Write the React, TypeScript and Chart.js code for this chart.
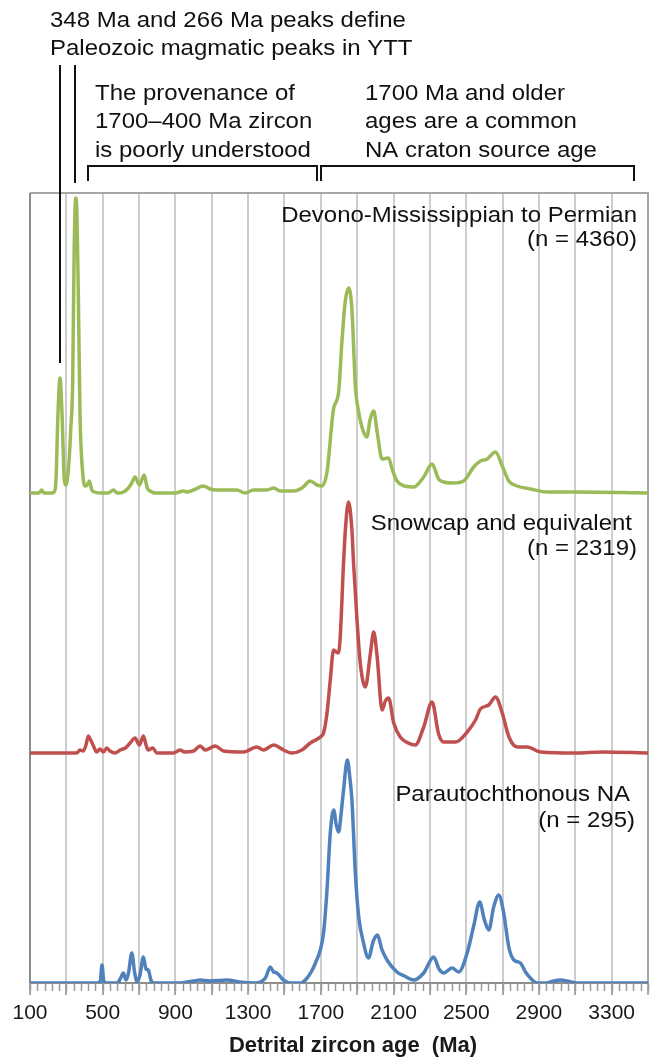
import React, { useEffect, useRef } from 'react';
import { Chart, registerables } from 'chart.js';

Chart.register(...registerables);

// ---------- axis definition ----------
const AGE_MIN = 100;
const AGE_MAX = 3500;
const GRID_TICKS = [100, 300, 500, 700, 900, 1100, 1300, 1500, 1700, 1900, 2100, 2300, 2500, 2700, 2900, 3100, 3300, 3500];
const LABELED_TICKS = [100, 500, 900, 1300, 1700, 2100, 2500, 2900, 3300];
const MINOR_STEP = 40;
const X_TITLE = 'Detrital zircon age  (Ma)';

// ---------- series: [age (Ma), relative probability] ----------
const GREEN_PROFILE = [
  [100, 0], [150, 0], [164, 3], [176, 0], [221, 0], [236, 2], [243, 13], [254, 80], [265, 115], [276, 80],
  [289, 13], [297, 8], [311, 23], [324, 63], [335, 113], [342, 230], [349, 290], [353, 295], [358, 280],
  [366, 197], [375, 80], [390, 20], [403, 7], [414, 8], [427, 12], [440, 3], [455, 1], [485, 0], [530, 0],
  [559, 3], [580, 0], [615, 1], [641, 5], [660, 10], [678, 16], [702, 8], [728, 18], [745, 5], [761, 2],
  [790, 0], [900, 0], [944, 2], [965, 1], [1000, 3], [1054, 7], [1090, 4], [1128, 3], [1238, 3], [1284, 0],
  [1330, 3], [1403, 3], [1440, 5], [1477, 2], [1550, 2], [1596, 5], [1642, 12], [1679, 8], [1706, 7],
  [1734, 21], [1770, 84], [1798, 101], [1816, 151], [1834, 191], [1853, 205], [1871, 184], [1890, 107],
  [1908, 81], [1935, 61], [1953, 56], [1972, 74], [1991, 82], [2010, 61], [2037, 34], [2073, 35],
  [2092, 24], [2119, 12], [2160, 7], [2211, 6], [2266, 16], [2312, 29], [2348, 14], [2376, 11], [2430, 10],
  [2486, 12], [2541, 26], [2578, 32], [2615, 34], [2661, 41], [2698, 27], [2734, 12], [2780, 7], [2854, 4],
  [2946, 1], [3100, 1], [3500, 0],
];

const RED_PROFILE = [
  [100, 0], [357, 0], [375, 3], [393, 2], [408, 8], [421, 17], [434, 13], [449, 7], [467, 1], [485, 4],
  [504, 1], [522, 5], [540, 2], [568, 0], [596, 3], [625, 5], [651, 10], [678, 15], [702, 8], [724, 17],
  [740, 7], [751, 3], [775, 5], [798, 0], [889, 0], [926, 3], [950, 1], [1000, 2], [1036, 7], [1064, 3],
  [1119, 7], [1165, 2], [1275, 1], [1348, 6], [1385, 3], [1440, 8], [1495, 3], [1541, 0], [1596, 3],
  [1642, 10], [1697, 16], [1715, 20], [1734, 40], [1752, 73], [1770, 103], [1785, 101], [1797, 100],
  [1807, 117], [1825, 190], [1835, 223], [1852, 251], [1871, 223], [1880, 190], [1899, 133], [1917, 90],
  [1945, 66], [1973, 100], [1991, 121], [2010, 96], [2037, 43], [2055, 52], [2073, 55], [2101, 30],
  [2137, 16], [2180, 10], [2220, 8], [2266, 26], [2312, 51], [2348, 19], [2376, 11], [2441, 11],
  [2505, 21], [2551, 33], [2578, 44], [2624, 48], [2661, 56], [2698, 40], [2735, 16], [2781, 6],
  [2835, 6], [2909, 1], [3100, 0], [3250, 1], [3500, 0],
];

const BLUE_PROFILE = [
  [100, 0], [470, 0], [487, 2], [496, 18], [506, 2], [520, 0], [580, 0], [596, 4], [614, 10], [628, 3],
  [642, 10], [660, 30], [676, 10], [690, 1], [705, 8], [724, 26], [738, 14], [751, 13], [765, 3], [780, 0],
  [930, 0], [1000, 2], [1036, 3], [1090, 2], [1185, 3], [1250, 1], [1340, 0], [1395, 5], [1422, 16],
  [1440, 11], [1458, 10], [1494, 3], [1530, 0], [1590, 0], [1620, 4], [1650, 12], [1675, 22], [1697, 33],
  [1715, 50], [1734, 93], [1752, 150], [1771, 173], [1785, 158], [1798, 151], [1812, 170], [1825, 193],
  [1846, 223], [1860, 205], [1871, 183], [1890, 110], [1908, 67], [1935, 40], [1962, 25], [1989, 42],
  [2012, 48], [2035, 34], [2064, 23], [2119, 11], [2160, 7], [2211, 3], [2266, 10], [2321, 26], [2350, 14],
  [2376, 10], [2422, 15], [2459, 11], [2505, 30], [2541, 57], [2574, 81], [2600, 63], [2624, 53],
  [2651, 76], [2679, 88], [2706, 70], [2734, 36], [2762, 23], [2798, 20], [2826, 11], [2853, 5], [2890, 0],
  [2940, 0], [2981, 2], [3020, 3], [3055, 2], [3112, 0], [3500, 0],
];

// vertical stacking of the three curves (same units as the profiles)
const SERIES_OFFSETS = [490, 230, 0];
const Y_MAX = 790;

const SERIES_NAMES = ['Devono-Mississippian to Permian', 'Snowcap and equivalent', 'Parautochthonous NA'];
const SERIES_COUNTS = ['(n = 4360)', '(n = 2319)', '(n = 295)'];
const SERIES_COLORS = ['#9bbb59', '#c0504d', '#4f81bd'];
const SERIES_PROFILES = [GREEN_PROFILE, RED_PROFILE, BLUE_PROFILE];

// ---------- annotations ----------
const PEAK_NOTE = ['348 Ma and 266 Ma peaks define', 'Paleozoic magmatic peaks in YTT'];
const PEAK_AGES = [266, 348];
const BRACKET_NOTES = [
  ['The provenance of', '1700\u2013400 Ma zircon', 'is poorly understood'],
  ['1700 Ma and older', 'ages are a common', 'NA craton source age'],
];
const BRACKET_RANGES = [
  [418, 1680],
  [1702, 3422],
];

const FONT = "'Liberation Sans', Arial, Helvetica, sans-serif";
const NOTE_STRETCH = 1.09;

// layout (pixels)
const LAYOUT = {
  peakNoteX: 50,
  peakNoteBaselines: [27, 55],
  peakLineTop: 65,
  peakLineBottoms: [363, 183],
  bracketY: 166,
  bracketTickBottom: 181,
  bracketTextX: [95, 365],
  bracketTextBaselines: [100, 128, 156.5],
  labelRight: [[637, 637], [632, 637], [630, 635]],
  labelBaselines: [[221.5, 245.5], [530, 555], [801, 827]],
  titleX: 353,
  titleBaseline: 1051.5,
};

function stretchedText(ctx: CanvasRenderingContext2D, text: string, x: number, y: number, align: CanvasTextAlign) {
  ctx.save();
  ctx.translate(x, y);
  ctx.scale(NOTE_STRETCH, 1);
  ctx.textAlign = align;
  ctx.fillText(text, 0, 0);
  ctx.restore();
}

const overlayPlugin = {
  id: 'overlay',
  beforeDatasetsDraw(chart: any) {
    const { ctx, chartArea: a } = chart;
    ctx.save();
    ctx.lineWidth = 2;
    ctx.strokeStyle = '#a6a6a6';
    ctx.beginPath();
    ctx.moveTo(a.left, a.top);
    ctx.lineTo(a.right, a.top);
    ctx.lineTo(a.right, a.bottom);
    ctx.stroke();
    ctx.strokeStyle = '#8c8c8c';
    ctx.beginPath();
    ctx.moveTo(a.left, a.top);
    ctx.lineTo(a.left, a.bottom);
    ctx.stroke();
    ctx.restore();
  },
  afterDraw(chart: any) {
    const { ctx, chartArea: a } = chart;
    const xs = chart.scales.x;
    ctx.save();

    // minor ticks
    ctx.strokeStyle = '#9a9a9a';
    ctx.lineWidth = 1.5;
    for (let v = AGE_MIN; v <= AGE_MAX; v += MINOR_STEP) {
      const px = Math.round(xs.getPixelForValue(v)) + 0.5;
      ctx.beginPath();
      ctx.moveTo(px, a.bottom);
      ctx.lineTo(px, a.bottom + 8);
      ctx.stroke();
    }

    // axis title
    ctx.fillStyle = '#1a1a1a';
    ctx.font = `bold 22px ${FONT}`;
    ctx.textAlign = 'center';
    ctx.textBaseline = 'alphabetic';
    ctx.fillText(X_TITLE, LAYOUT.titleX, LAYOUT.titleBaseline);

    // text notes
    ctx.fillStyle = '#111';
    ctx.font = `22px ${FONT}`;
    PEAK_NOTE.forEach((t, i) => stretchedText(ctx, t, LAYOUT.peakNoteX, LAYOUT.peakNoteBaselines[i], 'left'));
    BRACKET_NOTES.forEach((lines, j) =>
      lines.forEach((t, i) => stretchedText(ctx, t, LAYOUT.bracketTextX[j], LAYOUT.bracketTextBaselines[i], 'left'))
    );
    SERIES_NAMES.forEach((name, i) => {
      stretchedText(ctx, name, LAYOUT.labelRight[i][0], LAYOUT.labelBaselines[i][0], 'right');
      stretchedText(ctx, SERIES_COUNTS[i], LAYOUT.labelRight[i][1], LAYOUT.labelBaselines[i][1], 'right');
    });

    // peak marker lines
    ctx.strokeStyle = '#111';
    ctx.lineWidth = 2;
    PEAK_AGES.forEach((age, i) => {
      const px = Math.round(xs.getPixelForValue(age));
      ctx.beginPath();
      ctx.moveTo(px, LAYOUT.peakLineTop);
      ctx.lineTo(px, LAYOUT.peakLineBottoms[i]);
      ctx.stroke();
    });

    // brackets
    BRACKET_RANGES.forEach(([from, to]) => {
      const x0 = Math.round(xs.getPixelForValue(from));
      const x1 = Math.round(xs.getPixelForValue(to));
      ctx.beginPath();
      ctx.moveTo(x0, LAYOUT.bracketTickBottom);
      ctx.lineTo(x0, LAYOUT.bracketY);
      ctx.lineTo(x1, LAYOUT.bracketY);
      ctx.lineTo(x1, LAYOUT.bracketTickBottom);
      ctx.stroke();
    });

    ctx.restore();
  },
};

export default function App() {
  const ref = useRef<HTMLCanvasElement>(null);

  useEffect(() => {
    if (!ref.current) return;
    const datasets = SERIES_PROFILES.map((profile, i) => ({
      label: SERIES_NAMES[i],
      data: profile.map(([age, v]) => ({ x: age, y: v + SERIES_OFFSETS[i] })),
      borderColor: SERIES_COLORS[i],
      borderWidth: 3.5,
      pointRadius: 0,
      fill: false,
      tension: 0.4,
      cubicInterpolationMode: 'monotone' as const,
      borderJoinStyle: 'round' as const,
      borderCapStyle: 'round' as const,
    }));

    const chart = new Chart(ref.current, {
      type: 'line',
      data: { datasets },
      plugins: [overlayPlugin],
      options: {
        animation: false,
        responsive: false,
        devicePixelRatio: 1,
        events: [],
        layout: { padding: { left: 30, right: 6, top: 193, bottom: 0 } },
        plugins: { legend: { display: false }, tooltip: { enabled: false } },
        scales: {
          x: {
            type: 'linear',
            min: AGE_MIN,
            max: AGE_MAX,
            afterBuildTicks: (scale: any) => {
              scale.ticks = GRID_TICKS.map((value) => ({ value }));
            },
            afterFit: (scale: any) => {
              scale.height = 76;
            },
            grid: {
              color: '#cdcdcd',
              lineWidth: 2,
              drawTicks: true,
              tickLength: 12,
              tickColor: '#8c8c8c',
              tickWidth: 1.5,
            },
            border: { display: true, color: '#8c8c8c', width: 2 },
            ticks: {
              autoSkip: false,
              maxRotation: 0,
              padding: 6,
              color: '#1a1a1a',
              font: { family: FONT, size: 21 },
              callback: (value: any) => (LABELED_TICKS.includes(Number(value)) ? String(value) : ''),
            },
          },
          y: {
            type: 'linear',
            display: false,
            min: 0,
            max: Y_MAX,
          },
        },
      },
    });
    return () => chart.destroy();
  }, []);

  return (
    <div style={{ position: 'absolute', left: 0, top: 0, width: 654, height: 1059, background: '#fff' }}>
      <canvas ref={ref} width={654} height={1059} style={{ display: 'block', width: 654, height: 1059 }} />
    </div>
  );
}
